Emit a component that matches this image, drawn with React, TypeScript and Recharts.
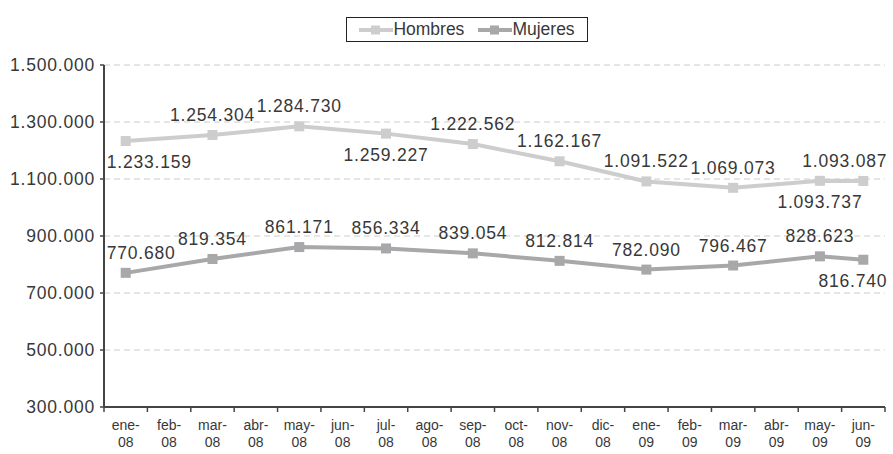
import React from "react";
import {
  LineChart,
  Line,
  XAxis,
  YAxis,
  CartesianGrid,
  Legend,
  LabelList,
} from "recharts";

const months = [
  "ene-08", "feb-08", "mar-08", "abr-08", "may-08", "jun-08",
  "jul-08", "ago-08", "sep-08", "oct-08", "nov-08", "dic-08",
  "ene-09", "feb-09", "mar-09", "abr-09", "may-09", "jun-09",
];

const hombres = [
  1233159, null, 1254304, null, 1284730, null,
  1259227, null, 1222562, null, 1162167, null,
  1091522, null, 1069073, null, 1093737, 1093087,
];

const mujeres = [
  770680, null, 819354, null, 861171, null,
  856334, null, 839054, null, 812814, null,
  782090, null, 796467, null, 828623, 816740,
];

const yTicks = [300000, 500000, 700000, 900000, 1100000, 1300000, 1500000];

// which labels sit under the point
const hombresBelow = ["ene-08", "jul-08", "may-09"];
const mujeresBelow = ["jun-09"];

const data = months.map((m, i) => ({ mes: m, hombres: hombres[i], mujeres: mujeres[i] }));

const FONT = "'Liberation Sans', Arial, sans-serif";
const TXT = "#383838";
const C_H = "#cdcdcd";
const C_M = "#a8a8aa";

const fmt = (v: number) => String(Math.round(v)).replace(/\B(?=(\d{3})+(?!\d))/g, ".");

const SquareDot = (color: string) => (p: any) => {
  const { cx, cy, index, value } = p;
  if (cy == null || value == null) return <g key={index} />;
  return <rect key={index} x={cx - 5} y={cy - 5} width={10} height={10} fill={color} />;
};

const makeLabel = (below: string[]) => (p: any) => {
  const { value, index } = p;
  if (value == null) return null;
  const x = p.viewBox?.x ?? p.x;
  const y = p.viewBox?.y ?? p.y;
  let anchor: any = "middle";
  let lx = x;
  if (index === 0) {
    anchor = "start";
    lx = x - 19;
  } else if (index === months.length - 1) {
    anchor = "end";
    lx = x + 24;
  }
  const ly = below.includes(months[index]) ? y + 21 : y - 20;
  return (
    <text
      key={index}
      x={lx}
      y={ly}
      textAnchor={anchor}
      dominantBaseline="central"
      fontFamily={FONT}
      fontSize={17.5}
      letterSpacing={0.8}
      fill={TXT}
    >
      {fmt(value)}
    </text>
  );
};

const MonthTick = (p: any) => {
  const { x, y, payload, index } = p;
  const half = payload.offset || 0;
  const [a, b] = String(payload.value).split("-");
  return (
    <g>
      <line x1={x - half} x2={x - half} y1={y - 8} y2={y - 3} stroke="#444" strokeWidth={1.5} />
      {index === months.length - 1 && (
        <line x1={x + half} x2={x + half} y1={y - 8} y2={y - 3} stroke="#444" strokeWidth={1.5} />
      )}
      <text textAnchor="middle" fontFamily={FONT} fontSize={14} fill={TXT}>
        <tspan x={x} y={y + 15}>{a + "-"}</tspan>
        <tspan x={x} y={y + 32}>{b}</tspan>
      </text>
    </g>
  );
};

const LegendIcon = ({ color }: { color: string }) => (
  <svg width={34} height={12} style={{ display: "block" }}>
    <line x1={0} x2={34} y1={6} y2={6} stroke={color} strokeWidth={4} />
    <rect x={12} y={1.5} width={9} height={9} fill={color} />
  </svg>
);

const MyLegend = () => (
  <div
    style={{
      border: "1px solid #222",
      height: 25,
      display: "flex",
      alignItems: "center",
      justifyContent: "center",
      fontFamily: FONT,
      fontSize: 17.5,
      color: TXT,
      boxSizing: "border-box",
    }}
  >
    <LegendIcon color={C_H} />
    <span style={{ marginRight: 14 }}>Hombres</span>
    <LegendIcon color={C_M} />
    <span>Mujeres</span>
  </div>
);

export default function App() {
  return (
    <div style={{ position: "absolute", left: 0, top: 0, background: "#fff" }}>
      <LineChart
        width={893}
        height={454}
        data={data}
        margin={{ top: 41, right: 8, left: 0, bottom: 7 }}
      >
        <CartesianGrid vertical={false} stroke="#cccccc" strokeDasharray="6 4" />
        <Legend
          verticalAlign="top"
          content={<MyLegend />}
          wrapperStyle={{ left: 346, top: 17, width: 242, height: 24 }}
        />
        <XAxis
          dataKey="mes"
          scale="band"
          interval={0}
          height={40}
          tickLine={false}
          axisLine={{ stroke: "#444", strokeWidth: 2 }}
          tick={<MonthTick />}
        />
        <YAxis
          width={104}
          domain={[300000, 1500000]}
          ticks={yTicks}
          interval={0}
          tickFormatter={fmt}
          tickSize={4}
          tickMargin={5}
          axisLine={{ stroke: "#444", strokeWidth: 2 }}
          tickLine={{ stroke: "#444", strokeWidth: 1.5 }}
          tick={{ fontFamily: FONT, fontSize: 17.5, fill: TXT, letterSpacing: 0.8 }}
        />
        <Line
          dataKey="hombres"
          name="Hombres"
          stroke={C_H}
          strokeWidth={4}
          connectNulls
          dot={SquareDot(C_H)}
          activeDot={false}
          isAnimationActive={false}
        >
          <LabelList dataKey="hombres" content={makeLabel(hombresBelow)} />
        </Line>
        <Line
          dataKey="mujeres"
          name="Mujeres"
          stroke={C_M}
          strokeWidth={4}
          connectNulls
          dot={SquareDot(C_M)}
          activeDot={false}
          isAnimationActive={false}
        >
          <LabelList dataKey="mujeres" content={makeLabel(mujeresBelow)} />
        </Line>
      </LineChart>
    </div>
  );
}
